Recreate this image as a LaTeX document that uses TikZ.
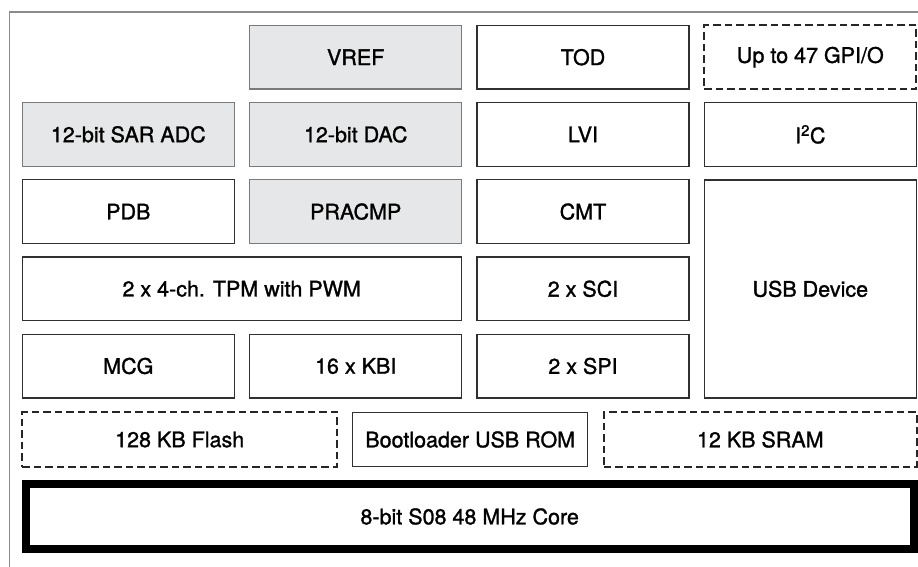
\documentclass[tikz,border=0pt]{standalone}
\usepackage{fontspec}
\setmainfont{TeX Gyre Heros}
\newfontfamily\blockfont{TeX Gyre Heros}[FakeBold=1.3]
\usepackage{xcolor}
\usepackage{tikz}
\definecolor{framegray}{HTML}{8C8C8C}
\definecolor{blockgray}{HTML}{E6E7E8}
\definecolor{edgegray}{HTML}{7A7A7A}
\definecolor{edgedark}{HTML}{303030}

\begin{document}
\begin{tikzpicture}[x=1pt, y=-1pt,
		blk/.style={draw=edgedark, line width=1.3pt, minimum width=212pt, minimum height=63.7pt, inner sep=0pt, font=\blockfont\fontsize{21.5}{25}\selectfont},
		analog/.style={blk, draw=edgegray, fill=blockgray},
		dashblk/.style={blk, draw=black!85, dash pattern=on 7.5pt off 4pt, line width=1.8pt},
		mem/.style={dashblk, minimum height=54.4pt},
		core/.style={draw=black, line width=8pt, minimum width=888pt, minimum height=65pt, inner sep=0pt, font=\blockfont\fontsize{21.5}{25}\selectfont}]
				\useasboundingbox (0,0) rectangle (918,567);
				
				% Outer frame
				\draw[framegray, line width=1.2pt] (9.5,567) -- (9.5,12) -- (918,12);
				
				% Row 1
				\node[analog] (vref) at (355.7,57.2) {VREF};
				\node[blk] (tod) at (583,57.2) {TOD};
				\node[dashblk] (gpio) at (810.3,57.2) {Up to 47 GPI/O};
				
				% Row 2
				\node[analog] (adc) at (128.3,134.4) {12-bit SAR ADC};
				\node[analog] (dac) at (355.7,134.4) {12-bit DAC};
				\node[blk] (lvi) at (583,134.4) {LVI};
				\node[blk] (iic) at (810.3,134.4) {I\textsuperscript{2}C};
				
				% Row 3
				\node[blk] (pdb) at (128.3,211.6) {PDB};
				\node[analog] (pracmp) at (355.7,211.6) {PRACMP};
				\node[blk] (cmt) at (583,211.6) {CMT};
				
				% USB (rows 3 to 5)
				\node[blk, minimum height=218pt] (usb) at (810.3,288.9) {USB Device};
				
				% Row 4
				\node[blk, minimum width=439pt] (tpm) at (241.7,288.8) {2 x 4-ch. TPM with PWM};
				\node[blk] (sci) at (583,288.8) {2 x SCI};
				
				% Row 5
				\node[blk] (mcg) at (128.3,366) {MCG};
				\node[blk] (kbi) at (355.7,366) {16 x KBI};
				\node[blk] (spi) at (583,366) {2 x SPI};
				
				% Memories
				\node[mem, minimum width=314.7pt] (flash) at (179.7,439.5) {128 KB Flash};
				\node[blk, minimum width=235pt, minimum height=54.4pt] (rom) at (470.2,439.5) {Bootloader USB ROM};
				\node[mem, minimum width=312.7pt] (sram) at (760.3,439.5) {12 KB SRAM};
				
				% Core
				\node[core] (cpu) at (469.7,516.5) {8-bit S08 48 MHz Core};
				
\end{tikzpicture}
\end{document}
